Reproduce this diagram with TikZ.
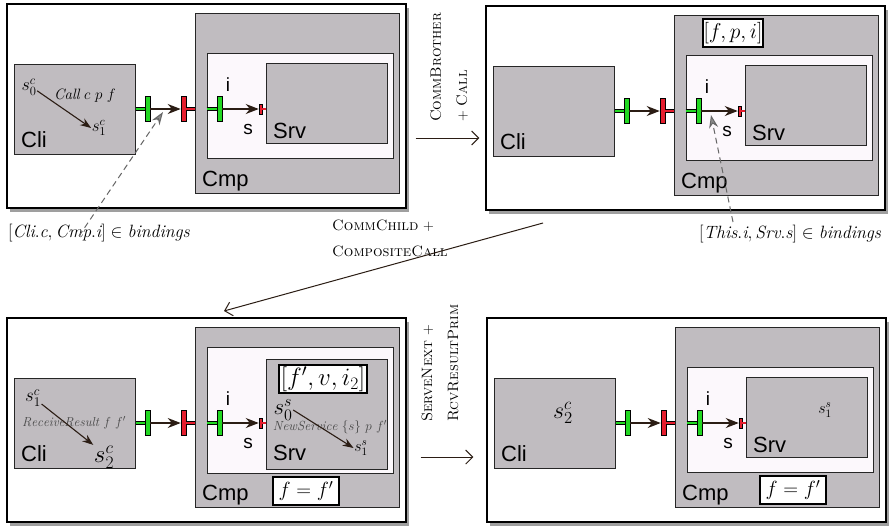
\documentclass[tikz,border=0pt]{standalone}
\usepackage{fix-cm}
\usepackage{fontspec}
\newfontfamily\hv{Liberation Sans}
\usetikzlibrary{arrows.meta,shadows,calc}
\definecolor{boxgray}{HTML}{C0BCC0}
\definecolor{inwhite}{HTML}{FCF8FC}
\definecolor{pgreen}{HTML}{22D822}
\definecolor{pred}{HTML}{E51E2E}
\definecolor{arr}{HTML}{2B1D14}
\newcommand\fsz[1]{\fontsize{#1}{#1}\selectfont}
\tikzset{
 frame/.style={draw=black, line width=1.2pt, fill=white, inner sep=0,
   drop shadow={shadow xshift=3pt,shadow yshift=-4pt,opacity=0.5,fill=black!75}},
 gbox/.style={draw=black!85, line width=1pt, fill=boxgray, inner sep=0},
 wbox/.style={draw=black!85, line width=1pt, fill=inwhite, inner sep=0},
 lbl/.style={font=\hv\fsz{22}, inner sep=0, anchor=base west},
 pl/.style={font=\hv\fsz{19}, inner sep=0, anchor=base},
 gbar/.style={draw=black, line width=0.6pt, fill=pgreen, minimum width=5pt, minimum height=25pt, inner sep=0},
 rbar/.style={draw=black, line width=0.6pt, fill=pred, minimum width=5pt, minimum height=25pt, inner sep=0},
 srbar/.style={draw=black, line width=0.5pt, fill=pred, minimum width=3pt, minimum height=10pt, inner sep=0},
 gstub/.style={draw=black, line width=0.6pt, double=pgreen, double distance=2.6pt},
 rstub/.style={draw=black, line width=0.6pt, double=pred, double distance=2.6pt},
 srstub/.style={draw=black, line width=0.4pt, double=pred, double distance=1.6pt},
 conn/.style={draw=arr, line width=1.2pt, -{Stealth[length=13pt,width=10pt]}},
 sconn/.style={draw=arr, line width=1.1pt, -{Stealth[length=11pt,width=8pt]}},
 mst/.style={inner sep=0.5pt},
 mbox/.style={draw=black, line width=1.2pt, fill=white, inner sep=0},
 dsh/.style={draw=black!60, line width=1pt, dash pattern=on 6pt off 4pt, -{Stealth[length=13pt,width=9pt,fill=black!45]}},
 trans/.style={draw=arr, line width=1pt, -{Straight Barb[length=7pt,width=14pt]}},
 tlbl/.style={font=\fontsize{15}{26}\selectfont, inner sep=0, align=left},
 blbl/.style={font=\fsz{17.8}, inner sep=0, anchor=base west}
}
% #1 prefix, #2 inner top, #3 inner bottom, #4 srv top, #5 srv bottom
\newcommand\panelbase[5]{%
 \node[frame, minimum width=399pt, minimum height=204pt] (#1frame) at (206.5,106) {};
 \node[gbox, minimum width=121pt, minimum height=90pt] (#1cli) at (74.5,109) {};
 \node[gbox, minimum width=204pt, minimum height=180pt] (#1cmp) at (297,103) {};
 \node[wbox, minimum width=186pt, minimum height={#3-#2}] (#1in) at (300,{(#2+#3)/2}) {};
 \node[gbox, minimum width=121pt, minimum height={#5-#4}] (#1srv) at (326.5,{(#4+#5)/2}) {};
 \node[gbar] (#1g1) at (147.5,109) {};
 \node[rbar] (#1r1) at (183.5,109) {};
 \node[gbar] (#1g2) at (219.5,109) {};
 \node[srbar] (#1r2) at (260.5,109) {};
 \draw[gstub] (#1cli.east) -- (#1g1.west);
 \draw[rstub] (#1r1.east) -- (#1r1.east -| #1cmp.west);
 \draw[gstub] (#1g2.west -| #1in.west) -- (#1g2.west);
 \draw[srstub] (#1r2.east) -- (#1r2.east -| #1srv.west);
 \draw[conn] (#1g1.east) -- (#1r1.west);
 \draw[conn] (#1g2.east) -- (#1r2.west);
 \node[lbl] (#1clit) at (21,147) {Cli};
 \node[lbl] (#1cmpt) at (202,186) {Cmp};
 \node[pl] (#1it) at (228,91) {i};
 \node[pl] (#1st) at (248,134) {s};
}
\begin{document}
\begin{tikzpicture}[x=1pt,y=-1pt]
\useasboundingbox (0,0) rectangle (891,531);
\fill[white] (0,0) rectangle (891,531);

% Panel 1
\begin{scope}
 \panelbase{p1}{53}{158}{63}{143}
 \node[lbl] (p1srvt) at (273,138) {Srv};
 \node[mst, font=\fsz{18}] (p1s0) at (29,87) {$s_0^c$};
 \node[mst, font=\fsz{17}] (p1s1) at (99,128) {$s_1^c$};
 \node[mst, font=\fsz{15}] (p1call) at (85,96) {$\mathit{Call}\ c\ p\ f$};
 \draw[sconn] (p1s0.-25) -- (p1s1.west);
\end{scope}

% Panel 2
\begin{scope}[shift={(479,2)}]
 \panelbase{p2}{53}{158}{63}{143}
 \node[lbl] (p2srvt) at (273,138) {Srv};
 \node[mbox, minimum width=60pt, minimum height=28pt, font=\fsz{21.5}] (p2fpi) at (254,31) {$[f,p,i]$};
\end{scope}

% Panel 3
\begin{scope}[shift={(0,314)}]
 \panelbase{p3}{33}{159}{45}{155}
 \node[lbl] (p3srvt) at (273,146) {Srv};
 \node[mst, font=\fsz{19}] (p3s1) at (33,84) {$s_1^c$};
 \node[mst, font=\fsz{13}, text=black!72] (p3rr) at (74,109) {$\mathit{ReceiveResult}\ f\ f'$};
 \node[mst, font=\fsz{25}] (p3s2) at (104,143) {$s_2^c$};
 \draw[sconn] (p3s1.-35) -- (p3s2.north west);
 \node[mbox, line width=1.4pt, minimum width=88pt, minimum height=28pt, font=\fsz{25}] (p3fvi) at (323,65) {$[f',v,i_2]$};
 \node[mst, font=\fsz{23}] (p3s0s) at (283,96) {$s_0^s$};
 \node[mst, font=\fsz{13.2}, text=black!72] (p3ns) at (330,113) {$\mathit{NewService}\ \{s\}\ p\ f'$};
 \node[mst, font=\fsz{16}] (p3s1s) at (361,134) {$s_1^s$};
 \draw[sconn] (p3s0s.east) -- (p3s1s.west);
 \node[mbox, minimum width=66pt, minimum height=28pt, font=\fsz{20.5}] (p3eq) at (306,177) {$f=f'$};
\end{scope}

% Panel 4
\begin{scope}[shift={(480,314)}]
 \panelbase{p4}{53}{158}{63}{143}
 \node[lbl] (p4srvt) at (273,138) {Srv};
 \node[mst, font=\fsz{24}] (p4s2) at (83,99) {$s_2^c$};
 \node[mst, font=\fsz{16}] (p4s1s) at (345,96) {$s_1^s$};
 \node[mbox, minimum width=66pt, minimum height=28pt, font=\fsz{20.5}] (p4eq) at (313,176) {$f=f'$};
\end{scope}

% binding labels and dashed arrows
\node[blbl] (b1) at (8,237) {$[\mathit{Cli.c}, \mathit{Cmp.i}] \in \mathit{bindings}$};
\node[blbl] (b2) at (699,238) {$[\mathit{This.i}, \mathit{Srv.s}] \in \mathit{bindings}$};
\coordinate (d1a) at (79,236);
\coordinate (d1b) at (163,112);
\coordinate (d2a) at (733,222);
\coordinate (d2b) at (711,115);
\draw[dsh] (d1a) -- (d1b);
\draw[dsh] (d2a) -- (d2b);

% transitions
\node[tlbl, rotate=90, anchor=west] (t1) at (449,122) {\textsc{CommBrother}\\+ \textsc{Call}};
\draw[trans, shorten <=9pt, shorten >=6pt] ($(p1frame.east)+(0,32)$) -- ($(p2frame.west)+(0,30)$);

\node[tlbl, rotate=90, anchor=west] (t2) at (440,422) {\textsc{ServeNext} +\\\textsc{RcvResultPrim}};
\draw[trans, shorten <=14pt, shorten >=13pt] ($(p3frame.east)+(0,37)$) -- ($(p4frame.west)+(0,37)$);

\node[tlbl, anchor=base west] (t3) at (332,256) {\textsc{CommChild} +\\\textsc{CompositeCall}};
\coordinate (t3a) at (543,223);
\coordinate (t3b) at (224,311);
\draw[draw=arr, line width=1pt, -{Straight Barb[length=7pt,width=14pt]}] (t3a) -- (t3b);
\end{tikzpicture}
\end{document}
